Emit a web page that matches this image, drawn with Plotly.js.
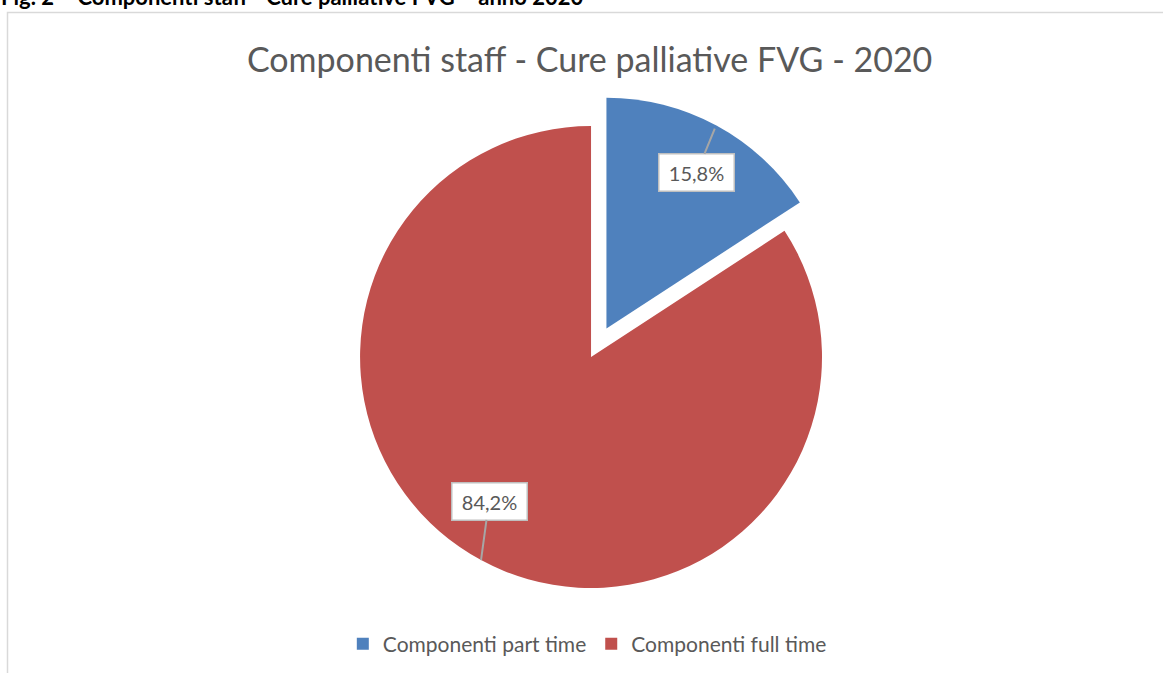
<!DOCTYPE html>
<html>
<head>
<meta charset="utf-8">
<script src="https://cdn.plot.ly/plotly-3.0.1.min.js"></script>
<style>
  html, body { margin: 0; padding: 0; background: #fff; }
  #chart { width: 1163px; height: 673px; }
</style>
</head>
<body>
<div id="chart"></div>
<script>
// pie of staff components, part time vs full time

var labels = ['Componenti part time', 'Componenti full time'];
var values = [15.8, 84.2];
var colors = ['#4F81BD', '#C0504D'];
var pulls = [0.14, 0];

var W = 1163, H = 673;
var dom = {x: [0.2818, 0.7346], y: [0.0782, 0.8608]};

// pie geometry in pixels (same rule plotly uses to size the pie)
var cx = W * (dom.x[0] + dom.x[1]) / 2;
var cy = H * (1 - (dom.y[0] + dom.y[1]) / 2);
var maxPull = Math.max.apply(null, pulls);
var r = Math.min(W * (dom.x[1] - dom.x[0]), H * (dom.y[1] - dom.y[0])) / (2 * (1 + maxPull));

// label offsets (text box centre relative to arrow tip, px)
var boxOffsets = [[-18, 44], [8, -59]];

var total = values.reduce(function(a, b) { return a + b; }, 0);
var annotations = [];
var start = 0;
values.forEach(function(v, i) {
  var frac = v / total;
  var mid = (start + frac / 2) * 2 * Math.PI; // clockwise from 12 o'clock
  start += frac;
  var ox = cx + pulls[i] * r * Math.sin(mid);
  var oy = cy - pulls[i] * r * Math.cos(mid);
  var tipR = (i === 0) ? 0.985 * r : r;
  var tx = ox + tipR * Math.sin(mid);
  var ty = oy - tipR * Math.cos(mid);
  annotations.push({
    x: tx / W, y: 1 - ty / H, xref: 'paper', yref: 'paper',
    text: v.toFixed(1).replace('.', ',') + '%',
    showarrow: true, arrowhead: 0, arrowwidth: 2, arrowcolor: '#A6A6A6',
    ax: boxOffsets[i][0], ay: boxOffsets[i][1],
    bgcolor: '#FFFFFF', bordercolor: '#BFBFBF', borderwidth: 1.5, borderpad: 6,
    width: 62, height: 24,
    font: {family: 'Lato, sans-serif', size: 20, color: '#595959'}
  });
});

// caption above the chart box (cut off at the top in the original)
annotations.push({
  x: 0, y: 1 - 11 / H, xref: 'paper', yref: 'paper', xanchor: 'left', yanchor: 'bottom',
  text: '<b>Fig. 2 – Componenti staff - Cure palliative FVG – anno 2020</b>',
  showarrow: false, borderpad: 0,
  font: {family: 'Lato, sans-serif', size: 22, color: '#000000'}
});

var data = [{
  type: 'pie',
  labels: labels,
  values: values,
  marker: {colors: colors, line: {width: 0}},
  pull: pulls,
  sort: false,
  direction: 'clockwise',
  rotation: 0,
  textinfo: 'none',
  hoverinfo: 'label+percent',
  domain: dom
}];

var layout = {
  width: W, height: H,
  margin: {l: 0, r: 0, t: 0, b: 0},
  paper_bgcolor: '#FFFFFF',
  title: {
    text: 'Componenti staff - Cure palliative FVG - 2020',
    x: 0.507, xanchor: 'center', y: 1 - 60 / H, yanchor: 'middle',
    font: {family: 'Lato, sans-serif', size: 34, color: '#595959'}
  },
  showlegend: true,
  legend: {
    orientation: 'h', x: 0.505, xanchor: 'center', y: 1 - 644 / H, yanchor: 'middle',
    font: {family: 'Lato, sans-serif', size: 21, color: '#595959'}
  },
  shapes: [{
    type: 'rect', xref: 'paper', yref: 'paper',
    x0: 7.5 / W, x1: 1.02, y0: -0.02, y1: 1 - 12.5 / H,
    line: {color: '#D9D9D9', width: 1.5}
  }],
  annotations: annotations
};

Plotly.newPlot('chart', data, layout, {displayModeBar: false});
</script>
</body>
</html>
